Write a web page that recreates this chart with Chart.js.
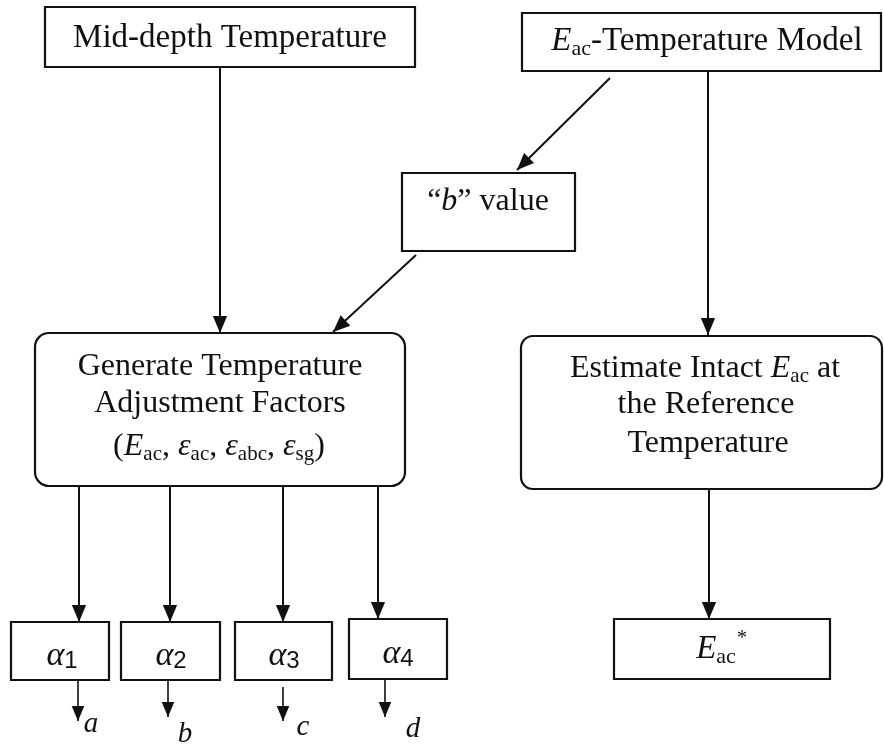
<!DOCTYPE html>
<html>
<head>
<meta charset="utf-8">
<script src="https://cdn.jsdelivr.net/npm/chart.js@4"></script>
<style>
  body { margin: 0; background: #fff; }
  #wrap { width: 884px; height: 745px; position: relative; }
</style>
</head>
<body>
<div id="wrap"><canvas id="chart"></canvas></div>
<script>
// Boxes of the flow chart (diagram units = reference pixels)
const boxNames = ['mid', 'model', 'bval', 'gen', 'est', 'a1', 'a2', 'a3', 'a4', 'eac'];
const boxLeft = [45, 522, 402, 35, 521, 11, 121, 235, 349, 614];
const boxTop = [7, 13, 173, 333, 336, 622, 622, 622, 619, 619];
const boxRight = [415, 881, 575, 405, 882, 109, 220, 332, 447, 830];
const boxBottom = [67, 71, 251, 486, 489, 680, 680, 680, 679, 679];
const boxRound = [0, 0, 0, 14, 12, 0, 0, 0, 0, 0];

// Text lines: [centre x, baseline y, size, segments]  seg: t text, i italic, s sub, f sans
const textLines = [
  [230, 47, 33, [{ t: 'Mid-depth Temperature' }]],
  [707, 50, 33, [{ t: 'E', i: 1 }, { t: 'ac', s: 1 }, { t: '-Temperature Model' }]],
  [488, 210, 32, [{ t: '\u201C' }, { t: 'b', i: 1 }, { t: '\u201D value' }]],
  [220, 375, 32, [{ t: 'Generate Temperature' }]],
  [220, 412, 32, [{ t: 'Adjustment Factors' }]],
  [219, 455, 32, [{ t: '(' }, { t: 'E', i: 1 }, { t: 'ac', s: 1 }, { t: ', ' }, { t: '\u03B5', i: 1 }, { t: 'ac', s: 1 },
    { t: ', ' }, { t: '\u03B5', i: 1 }, { t: 'abc', s: 1 }, { t: ', ' }, { t: '\u03B5', i: 1 }, { t: 'sg', s: 1 }, { t: ')' }]],
  [705, 377, 32, [{ t: 'Estimate Intact ' }, { t: 'E', i: 1 }, { t: 'ac', s: 1 }, { t: ' at' }]],
  [706, 413, 32, [{ t: 'the Reference' }]],
  [708, 452, 32, [{ t: 'Temperature' }]],
  [62, 665, 34, [{ t: '\u03B1', i: 1 }, { t: '1', s: 1, f: 1 }]],
  [171, 665, 34, [{ t: '\u03B1', i: 1 }, { t: '2', s: 1, f: 1 }]],
  [284, 665, 34, [{ t: '\u03B1', i: 1 }, { t: '3', s: 1, f: 1 }]],
  [398, 663, 34, [{ t: '\u03B1', i: 1 }, { t: '4', s: 1, f: 1 }]],
  [716, 658, 33, [{ t: 'E', i: 1 }, { t: 'ac', s: 1 }]],
  [742, 644, 20, [{ t: '*' }]],
  [91, 732, 29, [{ t: 'a', i: 1 }]],
  [185, 742, 29, [{ t: 'b', i: 1 }]],
  [303, 735, 29, [{ t: 'c', i: 1 }]],
  [413, 737, 29, [{ t: 'd', i: 1 }]]
];

// Connectors: start x/y, end x/y (arrow at the end), head size
const linkX0 = [220, 610, 416, 708, 79, 170, 283, 378, 709, 78, 168, 283, 385];
const linkY0 = [67, 78, 255, 71, 486, 486, 486, 486, 489, 680, 680, 687, 679];
const linkX1 = [220, 517, 333, 708, 79, 170, 283, 378, 709, 78, 168, 283, 385];
const linkY1 = [333, 170, 332, 335, 622, 622, 622, 619, 619, 721, 717, 721, 717];
const linkHead = [17, 17, 17, 17, 17, 17, 17, 17, 17, 15, 15, 15, 15];

const SERIF = '"Liberation Serif", "DejaVu Serif", serif';
const SANS = '"Liberation Sans", Arial, sans-serif';

function segFont(seg, size) {
  let sz = size;
  if (seg.s) sz = Math.round(size * (seg.f ? 0.7 : 0.67));
  return (seg.i ? 'italic ' : '') + sz + 'px ' + (seg.f ? SANS : SERIF);
}

function drawRich(ctx, cx, by, size, segs) {
  let total = 0;
  segs.forEach((seg) => {
    ctx.font = segFont(seg, size);
    seg.w = ctx.measureText(seg.t).width;
    total += seg.w;
  });
  let x = cx - total / 2;
  ctx.textBaseline = 'alphabetic';
  ctx.textAlign = 'left';
  segs.forEach((seg) => {
    ctx.font = segFont(seg, size);
    let dy = 0;
    if (seg.s) dy = size * (seg.f ? 0.1 : 0.16);
    ctx.fillText(seg.t, x, by + dy);
    x += seg.w;
  });
}

function roundRect(ctx, x0, y0, x1, y1, r) {
  ctx.beginPath();
  ctx.moveTo(x0 + r, y0);
  ctx.lineTo(x1 - r, y0);
  ctx.arcTo(x1, y0, x1, y0 + r, r);
  ctx.lineTo(x1, y1 - r);
  ctx.arcTo(x1, y1, x1 - r, y1, r);
  ctx.lineTo(x0 + r, y1);
  ctx.arcTo(x0, y1, x0, y1 - r, r);
  ctx.lineTo(x0, y0 + r);
  ctx.arcTo(x0, y0, x0 + r, y0, r);
  ctx.closePath();
}

// Draw boxes, arrow heads and text on top of the line datasets
const flowPlugin = {
  id: 'flow',
  afterDatasetsDraw(chart) {
    const ctx = chart.ctx;
    const xs = chart.scales.x;
    const ys = chart.scales.y;
    ctx.save();
    ctx.strokeStyle = '#111';
    ctx.fillStyle = '#111';
    ctx.lineWidth = 2.2;

    // Boxes
    boxNames.forEach((name, i) => {
      const x0 = xs.getPixelForValue(boxLeft[i]);
      const x1 = xs.getPixelForValue(boxRight[i]);
      const y0 = ys.getPixelForValue(boxTop[i]);
      const y1 = ys.getPixelForValue(boxBottom[i]);
      roundRect(ctx, x0, y0, x1, y1, boxRound[i]);
      ctx.stroke();
    });

    // Arrow heads
    linkX0.forEach((_, i) => {
      const ax = xs.getPixelForValue(linkX0[i]);
      const ay = ys.getPixelForValue(linkY0[i]);
      const bx = xs.getPixelForValue(linkX1[i]);
      const by = ys.getPixelForValue(linkY1[i]);
      const ang = Math.atan2(by - ay, bx - ax);
      const len = linkHead[i];
      const half = len * 0.42;
      ctx.beginPath();
      ctx.moveTo(bx, by);
      ctx.lineTo(bx - len * Math.cos(ang) + half * Math.sin(ang), by - len * Math.sin(ang) - half * Math.cos(ang));
      ctx.lineTo(bx - len * Math.cos(ang) - half * Math.sin(ang), by - len * Math.sin(ang) + half * Math.cos(ang));
      ctx.closePath();
      ctx.fill();
    });

    // Text
    textLines.forEach((ln) => {
      drawRich(ctx, xs.getPixelForValue(ln[0]), ys.getPixelForValue(ln[1]), ln[2], ln[3]);
    });
    ctx.restore();
  }
};

const datasets = linkX0.map((_, i) => ({
  data: [
    { x: linkX0[i], y: linkY0[i] },
    { x: linkX1[i], y: linkY1[i] }
  ],
  showLine: true,
  borderColor: '#111',
  borderWidth: i >= 9 ? 1.6 : 2,
  pointRadius: 0
}));

new Chart(document.getElementById('chart'), {
  type: 'scatter',
  data: { datasets: datasets },
  options: {
    responsive: true,
    maintainAspectRatio: false,
    animation: false,
    layout: { padding: 0 },
    plugins: {
      legend: { display: false },
      tooltip: { enabled: false }
    },
    scales: {
      x: { type: 'linear', min: 0, max: 884, display: false },
      y: { type: 'linear', min: 0, max: 745, reverse: true, display: false }
    }
  },
  plugins: [flowPlugin]
});
</script>
</body>
</html>
